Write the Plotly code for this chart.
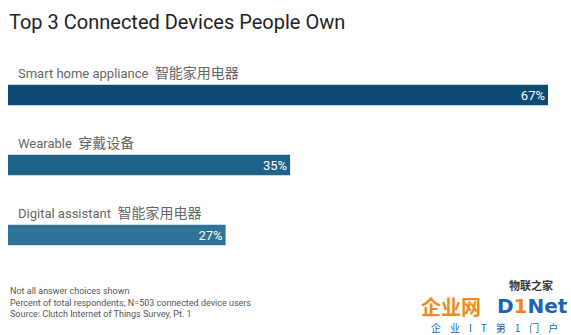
import plotly.graph_objects as go

# Survey results: share of respondents owning each device type
categories = ["Smart home appliance", "Wearable", "Digital assistant"]
categories_zh = ["智能家用电器", "穿戴设备", "智能家用电器"]
values = [67, 35, 27]
value_labels = ["67%", "35%", "27%"]
bar_colors = ["#0e4b74", "#1e6288", "#2f7398"]

title_text = "Top 3 Connected Devices People Own"
footnotes = [
    "Not all answer choices shown",
    "Percent of total respondents; N=503 connected device users",
    "Source: Clutch Internet of Things Survey, Pt. 1",
]

W, H = 571, 335
M_L, M_R, M_T, M_B = 8, 23, 60, 65
PW, PH = W - M_L - M_R, H - M_T - M_B
LATIN = "Roboto, 'Noto Sans CJK SC', sans-serif"
CJK = "'Noto Sans CJK SC', sans-serif"
NB = "\u00a0"


def px(xp):
    """Page x pixel -> paper fraction of the plot area."""
    return (xp - M_L) / PW


def py(yp):
    """Page y pixel -> paper fraction of the plot area."""
    return (H - M_B - yp) / PH


fig = go.Figure()
fig.add_trace(go.Bar(
    x=values,
    y=categories,
    orientation="h",
    marker=dict(color=bar_colors, line=dict(width=0)),
    width=0.29,
    text=value_labels,
    textposition="inside",
    insidetextanchor="end",
    textfont=dict(family=LATIN, size=13, color="white"),
    constraintext="none",
    hoverinfo="skip",
))

# Category captions above each bar (English + Chinese)
annotations = []
for cat, zh in zip(categories, categories_zh):
    annotations.append(dict(
        x=0, y=cat, xref="x", yref="y",
        xanchor="left", yanchor="middle",
        xshift=8, yshift=23,
        showarrow=False,
        text=(f"{cat}{NB}{NB}"
              f"<span style=\"font-family:{CJK};font-size:14px\">{zh}</span>"),
        font=dict(family=LATIN, size=13, color="#666666"),
    ))

# Footnotes
for i, line in enumerate(footnotes):
    annotations.append(dict(
        x=px(8), y=py(291 + i * 11.5), xref="paper", yref="paper",
        xanchor="left", yanchor="middle", showarrow=False,
        text=line, font=dict(family=LATIN, size=9, color="#555555"),
    ))

# Site watermark in the lower-right corner
bottom_line = (NB * 4).join(["企", "业", "I", "T", "第", "1", "门", "户"])
annotations += [
    dict(x=px(531), y=py(285), xref="paper", yref="paper",
         xanchor="center", yanchor="middle", showarrow=False,
         text="<b>物联之家</b>", font=dict(family=CJK, size=11, color="#333333")),
    dict(x=px(451), y=py(306), xref="paper", yref="paper",
         xanchor="center", yanchor="middle", showarrow=False,
         text="<b>企业网</b>", font=dict(family=CJK, size=20, color="#f08a1c")),
    dict(x=px(570), y=py(306), xref="paper", yref="paper",
         xanchor="right", yanchor="middle", showarrow=False,
         text="<b>D<span style=\"fill:#f08a1c\">1</span>Net</b>",
         font=dict(family="'DejaVu Sans', sans-serif", size=20, color="#1a63b6")),
    dict(x=px(494), y=py(327), xref="paper", yref="paper",
         xanchor="center", yanchor="middle", showarrow=False,
         text=bottom_line,
         font=dict(family=CJK, size=10, color="#1a63b6")),
]

fig.update_layout(
    width=W, height=H,
    margin=dict(l=M_L, r=M_R, t=M_T, b=M_B, pad=0),
    paper_bgcolor="white", plot_bgcolor="white",
    showlegend=False,
    title=dict(text=title_text, x=9 / W, xanchor="left", xref="container",
               y=1 - 22 / H, yanchor="middle", yref="container",
               font=dict(family=LATIN, size=20, color="#222222")),
    xaxis=dict(range=[0, 67], visible=False, fixedrange=True),
    yaxis=dict(categoryorder="array", categoryarray=categories[::-1],
               visible=False, fixedrange=True),
    annotations=annotations,
)

fig.write_html("out.html")
